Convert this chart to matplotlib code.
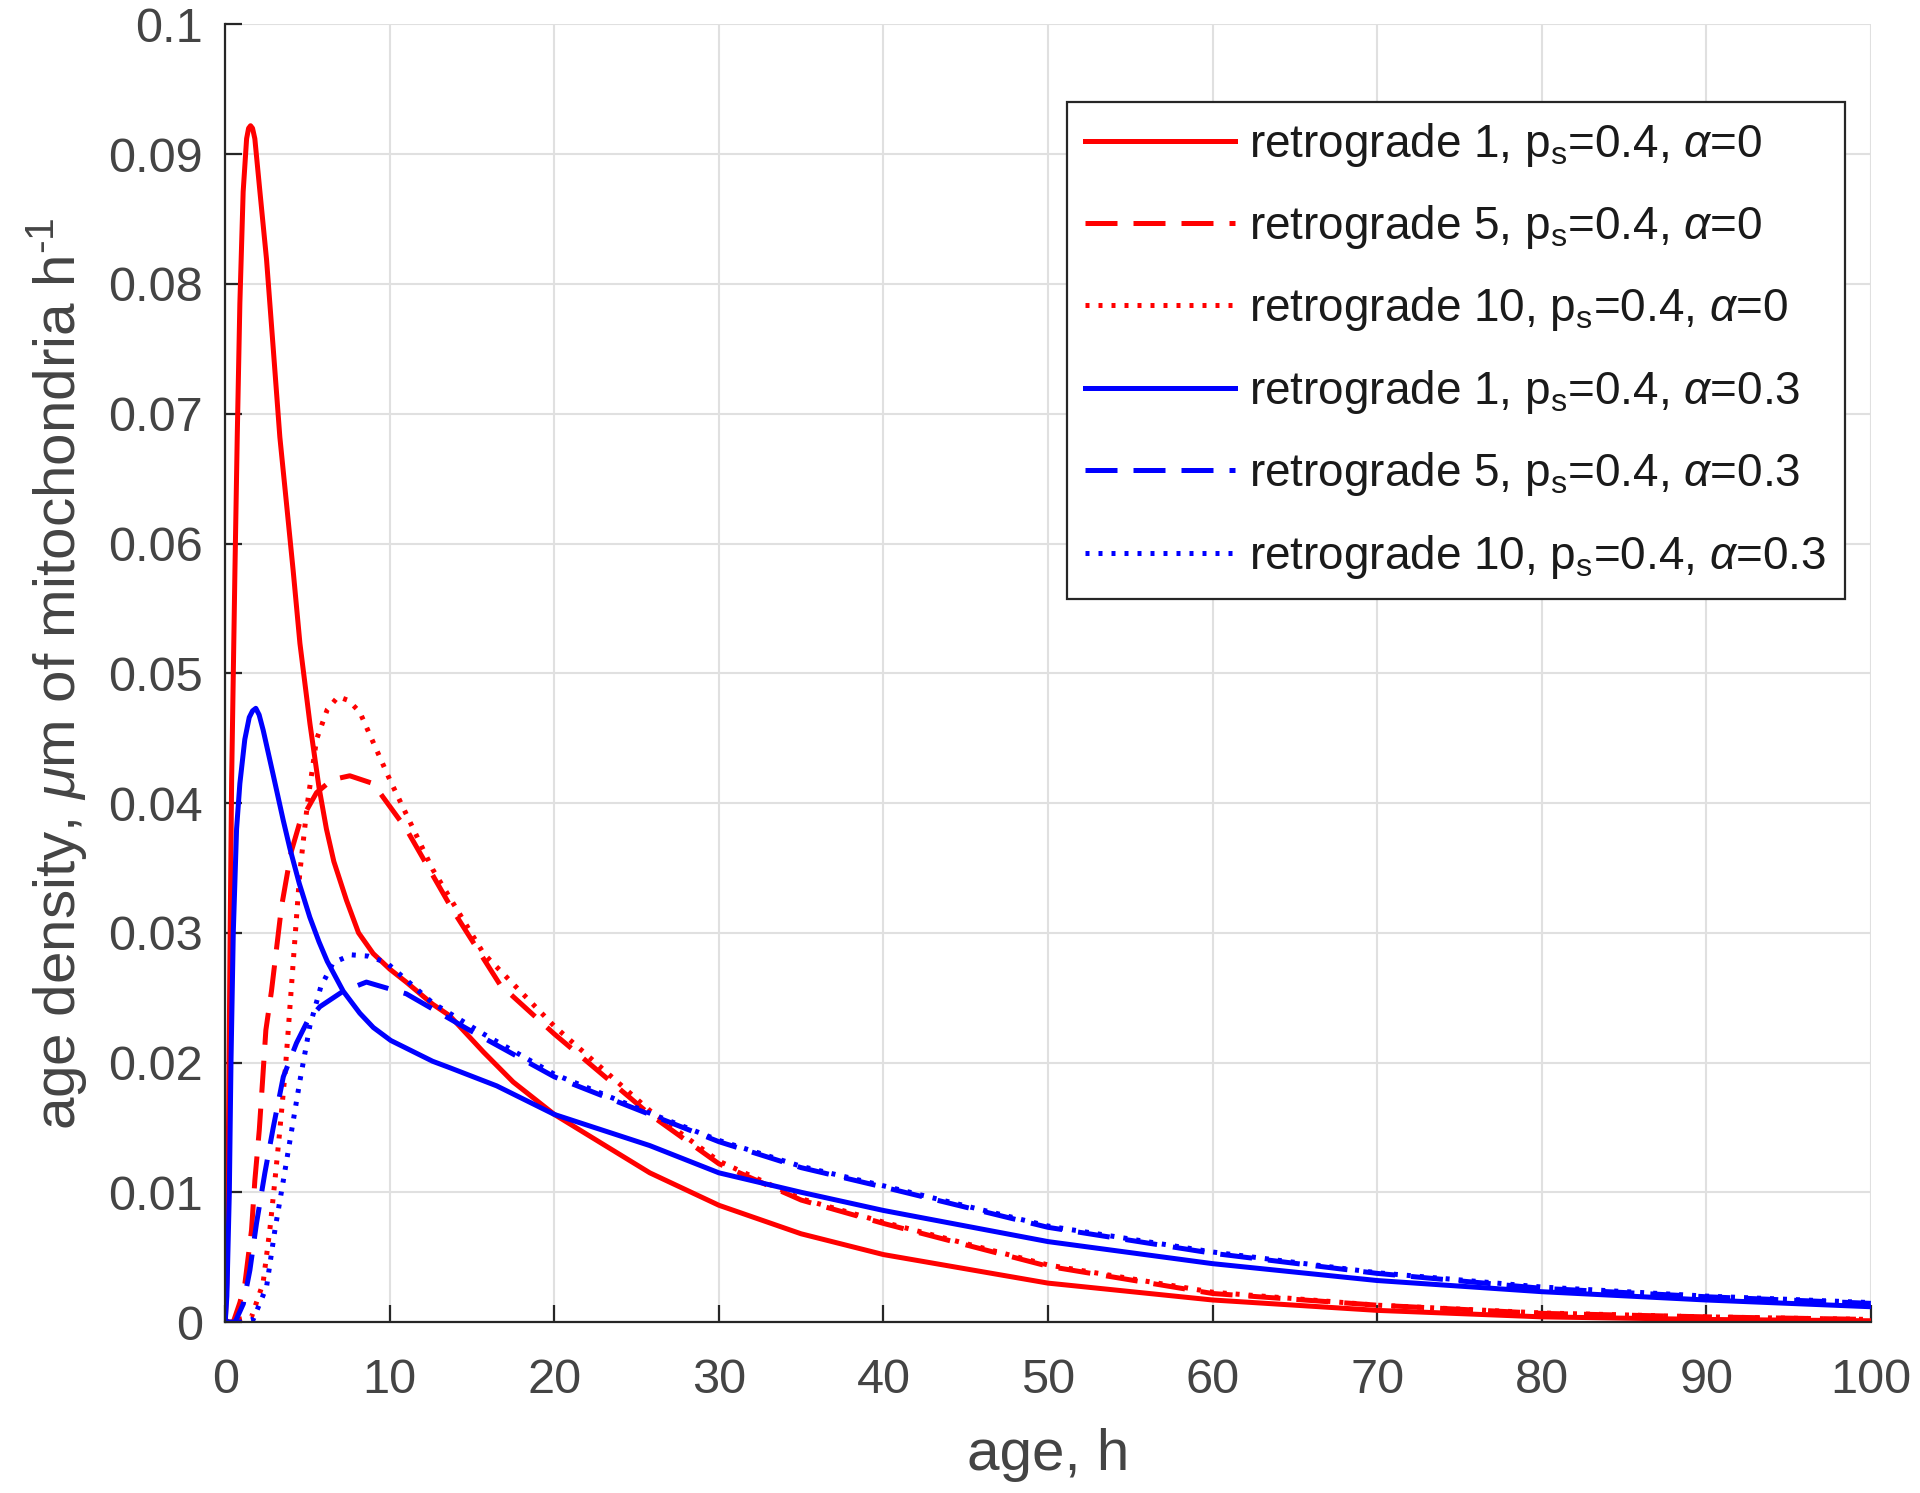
# age density curves, MATLAB style recreation
import matplotlib
matplotlib.use('Agg')
import matplotlib.pyplot as plt

plt.rcParams['font.family'] = ['Liberation Sans', 'DejaVu Sans']
plt.rcParams['mathtext.fontset'] = 'custom'
plt.rcParams['mathtext.rm'] = 'Liberation Sans'
plt.rcParams['mathtext.it'] = 'Liberation Sans:italic'

# retrograde 1, alpha=0 (red solid)
x_r1a0 = [0, 0.1, 0.2, 0.3, 0.39, 0.59, 0.73, 0.89, 1.09, 1.3, 1.42, 1.54, 1.66, 1.8, 2.11,
          2.51, 2.92, 3.32, 3.73, 4.13, 4.54, 5.15, 5.7, 6.15, 6.6, 7.37, 8.1, 8.99, 10.0, 11.0,
          12.6, 13.65, 15.7, 17.5, 20, 25.8, 30, 35, 40, 50, 60, 70, 80, 90, 100]
y_r1a0 = [0, 0.003, 0.015, 0.03, 0.0418, 0.0579, 0.0682, 0.0785, 0.0871, 0.0912, 0.0920,
          0.0922, 0.0920, 0.0912, 0.0871, 0.0819, 0.075, 0.0682, 0.063, 0.0579, 0.0523, 0.0461,
          0.0412, 0.0380, 0.0355, 0.0325, 0.0300, 0.0284, 0.0272, 0.0262, 0.0245, 0.0236,
          0.0208, 0.0185, 0.016, 0.0115, 0.009, 0.0068, 0.0052, 0.003, 0.0017, 0.0009, 0.0004,
          0.0002, 0.0001]

# retrograde 5, alpha=0 (red dashed)
x_r5a0 = [0, 0.49, 0.89, 1.2, 1.6, 1.8, 2.07, 2.27, 2.47, 2.81, 3.42, 4.0, 4.53, 5.55, 6.5,
          7.57, 8.99, 11.0, 13.8, 16.7, 20, 25.8, 30, 35, 40, 50, 60, 70, 80, 90, 100]
y_r5a0 = [0, 0, 0.0015, 0.003, 0.0071, 0.0109, 0.0148, 0.0186, 0.0225, 0.0255, 0.0320, 0.0362,
          0.0385, 0.0408, 0.0418, 0.0421, 0.0415, 0.038, 0.0318, 0.026, 0.0222, 0.016, 0.0122,
          0.0094, 0.0076, 0.0043, 0.0022, 0.0013, 0.00067, 0.0004, 0.0002]

# retrograde 10, alpha=0 (red dotted)
x_r10a0 = [0, 1.6, 2.3, 2.71, 3.02, 3.32, 3.63, 3.83, 4.13, 4.53, 5.0, 5.55, 6.2, 6.86, 7.5,
           8.18, 10.0, 12.6, 15.7, 20, 25.8, 30, 35, 40, 50, 60, 70, 80, 90, 100]
y_r10a0 = [0, 0.0004, 0.003, 0.0071, 0.0109, 0.0148, 0.0191, 0.0225, 0.0277, 0.0346, 0.040,
           0.0449, 0.0472, 0.0482, 0.0479, 0.047, 0.0418, 0.0349, 0.0284, 0.0228, 0.0163,
           0.0124, 0.0095, 0.0077, 0.0044, 0.0023, 0.0013, 0.0007, 0.0004, 0.0002]

# retrograde 1, alpha=0.3 (blue solid)
x_r1a3 = [0, 0.1, 0.25, 0.35, 0.49, 0.69, 0.89, 1.19, 1.46, 1.66, 1.86, 2.06, 2.31, 2.91, 3.52,
          3.93, 4.5, 5.14, 5.7, 6.2, 7.17, 8.18, 9.0, 10.06, 12.6, 13.65, 16.5, 20, 25.8, 30,
          35, 40, 50, 60, 70, 80, 90, 100]
y_r1a3 = [0, 0.002, 0.01, 0.02, 0.03, 0.038, 0.0415, 0.0449, 0.0466, 0.0471, 0.0473, 0.0468,
          0.0456, 0.0422, 0.0387, 0.0365, 0.0338, 0.0312, 0.0293, 0.0278, 0.0255, 0.0238,
          0.0227, 0.0217, 0.0201, 0.0196, 0.0182, 0.016, 0.0136, 0.0115, 0.01, 0.0086, 0.0062,
          0.0045, 0.0032, 0.00234, 0.0017, 0.00118]

# retrograde 5, alpha=0.3 (blue dashed)
x_r5a3 = [0, 0.6, 1.1, 1.5, 1.9, 2.41, 2.92, 3.53, 4.33, 5.0, 5.75, 7.17, 8.58, 11.0, 14.7, 20,
          25.8, 30, 35, 40, 50, 60, 70, 80, 90, 100]
y_r5a3 = [0, 0, 0.0014, 0.004, 0.0076, 0.0115, 0.015, 0.0189, 0.0215, 0.0232, 0.0243, 0.0255,
          0.0262, 0.0253, 0.0226, 0.0189, 0.016, 0.0139, 0.0119, 0.0104, 0.0073, 0.0053,
          0.00375, 0.0026, 0.00195, 0.00144]

# retrograde 10, alpha=0.3 (blue dotted)
x_r10a3 = [0, 1.0, 1.7, 2.51, 3.02, 3.53, 4.04, 4.54, 5.14, 5.8, 6.56, 7.67, 8.7, 9.8, 12.6,
           15.7, 20, 25.8, 30, 35, 40, 50, 60, 70, 80, 90, 100]
y_r10a3 = [0, 0, 0.0002, 0.0027, 0.0071, 0.0109, 0.0148, 0.0186, 0.0228, 0.0258, 0.0277,
           0.0283, 0.0282, 0.0277, 0.0246, 0.0222, 0.0191, 0.0161, 0.014, 0.012, 0.0105,
           0.0074, 0.0054, 0.0038, 0.0027, 0.002, 0.0015]

labels = [r'retrograde 1, p$_\mathrm{s}$=0.4, $\alpha$=0',
          r'retrograde 5, p$_\mathrm{s}$=0.4, $\alpha$=0',
          r'retrograde 10, p$_\mathrm{s}$=0.4, $\alpha$=0',
          r'retrograde 1, p$_\mathrm{s}$=0.4, $\alpha$=0.3',
          r'retrograde 5, p$_\mathrm{s}$=0.4, $\alpha$=0.3',
          r'retrograde 10, p$_\mathrm{s}$=0.4, $\alpha$=0.3']

dash = (0, (6.4, 3.2))
dot = (0, (0.8, 1.8))

fig = plt.figure(figsize=(19.2, 14.93), dpi=100)
ax = fig.add_axes([0.1173, 0.1145, 0.8571, 0.8691])

lw = 3.6
ax.plot(x_r1a0, y_r1a0, color='#ff0000', lw=lw, linestyle='-', label=labels[0])
ax.plot(x_r5a0, y_r5a0, color='#ff0000', lw=lw, linestyle=dash, label=labels[1])
ax.plot(x_r10a0, y_r10a0, color='#ff0000', lw=lw, linestyle=dot, label=labels[2])
ax.plot(x_r1a3, y_r1a3, color='#0000ff', lw=lw, linestyle='-', label=labels[3])
ax.plot(x_r5a3, y_r5a3, color='#0000ff', lw=lw, linestyle=dash, label=labels[4])
ax.plot(x_r10a3, y_r10a3, color='#0000ff', lw=lw, linestyle=dot, label=labels[5])

ax.set_xlim(0, 100)
ax.set_ylim(0, 0.1)
ax.set_xticks(range(0, 101, 10))
yt = [i / 100 for i in range(11)]
ax.set_yticks(yt)
ax.set_yticklabels(['0'] + ['%g' % v for v in yt[1:]])

ax.grid(True, color='#e0e0e0', linewidth=1.5)
ax.set_axisbelow(True)
for s in ['top', 'right']:
    ax.spines[s].set_visible(False)
for s in ['left', 'bottom']:
    ax.spines[s].set_linewidth(1.6)
    ax.spines[s].set_color('#262626')

ax.tick_params(direction='in', length=12, width=1.6, colors='#262626',
               labelsize=35, labelcolor='#444444')
ax.tick_params(axis='y', pad=16)
ax.tick_params(axis='x', pad=26)

ax.set_xlabel('age, h', fontsize=42, color='#444444', labelpad=18)
ax.set_ylabel(r'age density, $\mu$m of mitochondria h$^{\text{-}1}$', fontsize=42,
              color='#444444', labelpad=14)

leg = ax.legend(loc='upper right', bbox_to_anchor=(0.984, 0.940), fontsize=33,
                frameon=True, fancybox=False, framealpha=1, edgecolor='#262626',
                borderaxespad=0, handlelength=3.26, handletextpad=0.32,
                labelspacing=0.75, borderpad=0.4)
leg.get_frame().set_linewidth(1.6)
for t in leg.get_texts():
    t.set_color('#1a1a1a')

fig.savefig('out.png', dpi=100)
